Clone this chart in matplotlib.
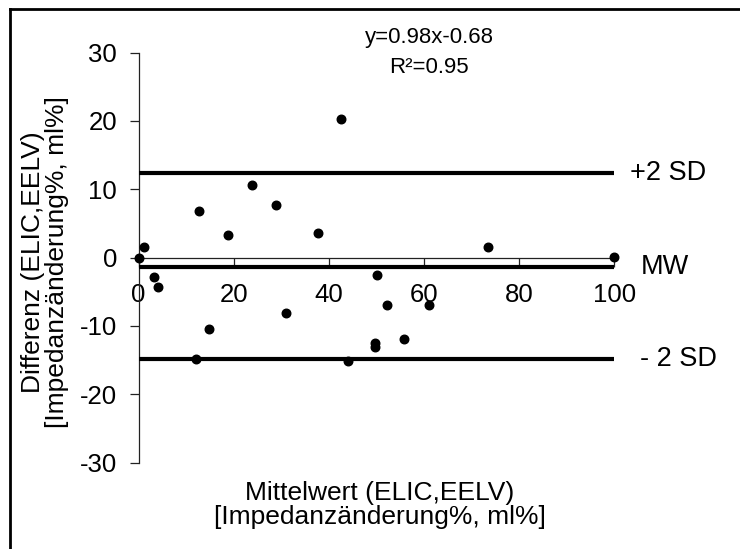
import matplotlib
matplotlib.use("Agg")
import matplotlib.pyplot as plt
from matplotlib.lines import Line2D

plt.rcParams['font.family'] = ['Liberation Sans', 'DejaVu Sans']
plt.rcParams['axes.unicode_minus'] = False

# Data
mean_vals = [0, 1.05, 12.8, 18.7, 23.8, 28.8, 37.7, 42.6, 3.15, 4.07, 14.9, 12.05,
             30.9, 44.0, 50.2, 52.3, 49.8, 49.8, 55.7, 61.1, 73.4, 100]
diff_vals = [0, 1.55, 6.8, 3.3, 10.6, 7.7, 3.6, 20.3, -2.84, -4.3, -10.45, -14.85,
             -8.1, -15.1, -2.55, -6.9, -12.45, -13.1, -11.9, -6.9, 1.55, 0.1]
upper_sd = 12.3
mean_diff = -1.45
lower_sd = -14.9
line_labels = ["+2 SD", "MW", "- 2 SD"]
xticks = [0, 20, 40, 60, 80, 100]
yticks = [-30, -20, -10, 0, 10, 20, 30]
equation = "y=0.98x-0.68"
r2_text = "R²=0.95"

W, H = 740, 549
fig = plt.figure(figsize=(W / 100, H / 100), dpi=100)
ax = fig.add_axes([138.6 / W, 1 - 462.5 / H, (614.3 - 138.6) / W, (462.5 - 52.5) / H])

ax.set_xlim(0, 100)
ax.set_ylim(-30, 30)
ax.spines['top'].set_visible(False)
ax.spines['right'].set_visible(False)
ax.spines['bottom'].set_position(('data', 0))
for s in ('left', 'bottom'):
    ax.spines[s].set_linewidth(0.9)
    ax.spines[s].set_color('#222222')

ax.set_xticks(xticks)
ax.set_yticks(yticks)
ax.tick_params(axis='x', direction='out', length=6.5, width=0.9, pad=12, labelsize=18.5, color='#222222')
ax.tick_params(axis='y', direction='out', length=6.5, width=0.9, pad=9, labelsize=18.5, color='#222222')

# SD and mean lines
for val in (upper_sd, mean_diff, lower_sd):
    ax.hlines(val, 0, 100, colors='black', linewidth=3.0, zorder=3)

ax.text(103.3, upper_sd, line_labels[0], fontsize=19.5, va='center', ha='left', clip_on=False)
ax.text(105.5, mean_diff, line_labels[1], fontsize=19.5, va='center', ha='left', clip_on=False)
ax.text(105.5, lower_sd, line_labels[2], fontsize=19.5, va='center', ha='left', clip_on=False)

ax.scatter(mean_vals, diff_vals, s=38, color='black', zorder=4, clip_on=False)

# Regression text
fig.text(429 / W, 1 - 38 / H, equation, fontsize=16, ha='center', va='center')
fig.text(429 / W, 1 - 67 / H, r2_text, fontsize=16, ha='center', va='center')

# Axis labels
fig.text(45 / W, 1 - 262 / H, "Differenz (ELIC,EELV)\n[Impedanzänderung%, ml%]",
         rotation=90, fontsize=19, ha='center', va='center', linespacing=1.02,
         multialignment='center')
fig.text(380 / W, 1 - 505 / H, "Mittelwert (ELIC,EELV)\n[Impedanzänderung%, ml%]",
         fontsize=19, ha='center', va='center', linespacing=1.02,
         multialignment='center')

# Outer frame (left and top edges)
fig.add_artist(Line2D([10 / W, 10 / W], [0, 1 - 9 / H], transform=fig.transFigure,
                      color='black', linewidth=2))
fig.add_artist(Line2D([10 / W, 1], [1 - 9 / H, 1 - 9 / H], transform=fig.transFigure,
                      color='black', linewidth=2))

fig.savefig("out.png", dpi=100)
